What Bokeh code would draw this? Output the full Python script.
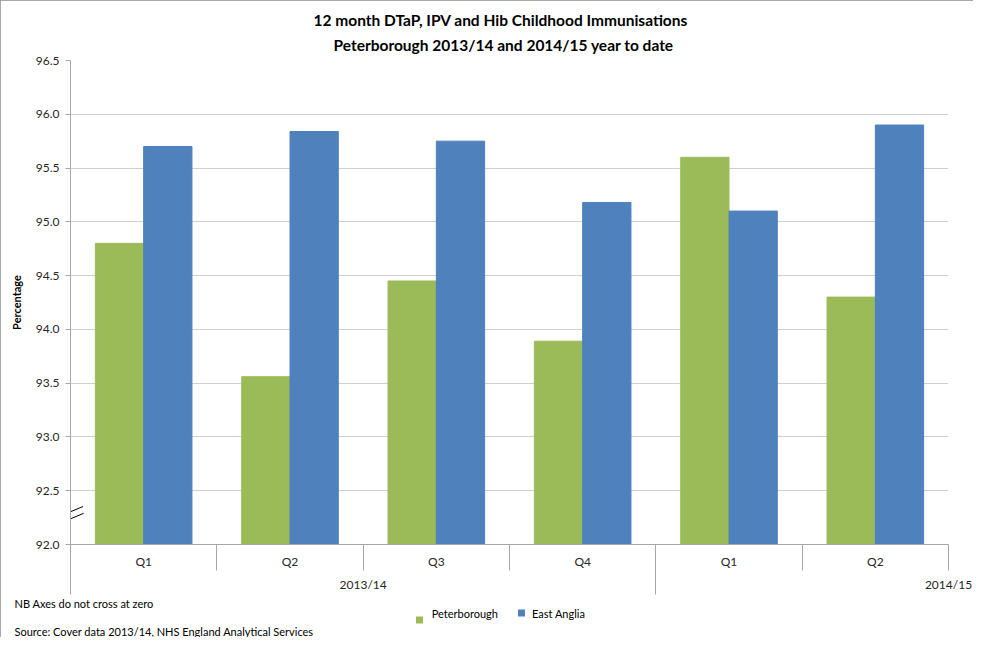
from bokeh.plotting import figure
from bokeh.models import (FixedTicker, ColumnDataSource, Range1d, LinearAxis,
                          Title, PrintfTickFormatter)
from bokeh.transform import dodge
from bokeh.embed import file_html
from bokeh.resources import INLINE

# ---------------- data ----------------
title_lines = ["12 month DTaP, IPV and Hib Childhood Immunisations",
               "Peterborough 2013/14 and 2014/15 year to date"]
years = ["2013/14", "2013/14", "2013/14", "2013/14", "2014/15", "2014/15"]
quarters = ["Q1", "Q2", "Q3", "Q4", "Q1", "Q2"]
year_groups = ["2013/14", "2014/15"]
peterborough = [94.80, 93.56, 94.45, 93.89, 95.60, 94.30]
east_anglia = [95.70, 95.84, 95.75, 95.18, 95.10, 95.90]
y_ticks = [92.0, 92.5, 93.0, 93.5, 94.0, 94.5, 95.0, 95.5, 96.0, 96.5]
series_names = ["Peterborough", "East Anglia"]
y_label = "Percentage"
notes = ["NB Axes do not cross at zero",
         "Source: Cover data 2013/14, NHS England Analytical Services"]

GREEN = "#9BBB59"
BLUE = "#4F81BD"
FONT = "Lato"
TXT = "#262626"
AXC = "#A6A6A6"
GRIDC = "#D0D0D0"

y_base = y_ticks[0]
y_top = y_ticks[-1]
n = len(quarters)
centers = [i + 0.5 for i in range(n)]       # category slots on the x scale
bounds = list(range(n + 1))
src = ColumnDataSource(dict(xc=centers, pb=peterborough, ea=east_anglia))

W, H = 973, 637
p = figure(width=W, height=H, output_backend="svg", toolbar_location=None,
           x_range=Range1d(0, n), y_range=Range1d(y_base, y_top),
           x_axis_location=None,
           min_border_left=70, min_border_right=25, min_border_top=60,
           min_border_bottom=0)
p.outline_line_color = None
p.background_fill_color = "white"
p.border_fill_color = "white"
p.styles = {"outline": "1px solid #8C8C8C", "outline-offset": "-1px"}

# bars
r_pb = p.vbar(x=dodge("xc", -0.165), top="pb", bottom=y_base,
              width=0.33, fill_color=GREEN, line_color=GREEN, source=src)
r_ea = p.vbar(x=dodge("xc", 0.165), top="ea", bottom=y_base,
              width=0.33, fill_color=BLUE, line_color=BLUE, source=src)

# axis break marks (drawn across the value axis)
p.segment(x0=[-0.09, -0.085], y0=[y_base + 0.253, y_base + 0.19],
          x1=[0.085, 0.09], y1=[y_base + 0.353, y_base + 0.29],
          line_color="black", line_width=1)

# value axis
p.xgrid.visible = False
yax = p.yaxis[0]
yax.ticker = FixedTicker(ticks=y_ticks)
yax.formatter = PrintfTickFormatter(format="%.1f")
yax.axis_line_color = AXC
yax.major_tick_line_color = AXC
yax.major_tick_out = 5
yax.major_tick_in = 0
yax.minor_tick_line_color = None
yax.major_label_standoff = 6
yax.major_label_text_font = FONT
yax.major_label_text_font_size = "12px"
yax.major_label_text_color = TXT
yax.axis_label = y_label
yax.axis_label_text_font = FONT
yax.axis_label_text_font_size = "11px"
yax.axis_label_text_font_style = "bold"
yax.axis_label_text_color = "black"
yax.axis_label_standoff = 10
p.ygrid.ticker = FixedTicker(ticks=y_ticks[1:])
p.ygrid.grid_line_color = GRIDC

# category axis: quarter labels, separators between quarters
qax = LinearAxis(ticker=FixedTicker(ticks=centers, minor_ticks=bounds),
                 major_label_overrides={c: q for c, q in zip(centers, quarters)})
qax.axis_line_color = AXC
qax.major_tick_line_color = None
qax.major_tick_out = 0
qax.major_tick_in = 0
qax.minor_tick_line_color = AXC
qax.minor_tick_out = 26
qax.minor_tick_in = 0
qax.major_label_standoff = -17
qax.major_label_text_font = FONT
qax.major_label_text_font_size = "12px"
qax.major_label_text_color = TXT
p.add_layout(qax, "below")

# group axis: year labels, long separators at year boundaries
first_len = years.count(year_groups[0])
group_pos = [first_len / 2, float(n)]
group_bounds = [0, first_len]
gax = LinearAxis(ticker=FixedTicker(ticks=group_pos, minor_ticks=group_bounds),
                 major_label_overrides={g: y for g, y in zip(group_pos, year_groups)})
gax.axis_line_color = None
gax.major_tick_line_color = None
gax.major_tick_out = 0
gax.major_tick_in = 0
gax.minor_tick_line_color = AXC
gax.minor_tick_in = 27
gax.minor_tick_out = 23
gax.major_label_standoff = -18
gax.major_label_text_font = FONT
gax.major_label_text_font_size = "12px"
gax.major_label_text_color = TXT
p.add_layout(gax, "below")

# footnote 1
p.add_layout(Title(text=notes[0], align="left", offset=-56, standoff=0,
                   text_font=FONT, text_font_size="11px",
                   text_font_style="normal", text_color="black"), "below")

# legend row (built from two axis rows sharing one line):
# keys are square tick marks, names are tick labels
key_pos = [2.386, 3.085]      # square keys, in category units
name_pos = [2.695, 3.336]     # key names, in category units
kb = LinearAxis(ticker=FixedTicker(ticks=[], minor_ticks=[key_pos[1]]))
kb.axis_line_color = None
kb.minor_tick_line_color = BLUE
kb.minor_tick_line_width = 7
kb.minor_tick_in = 0
kb.minor_tick_out = 7
kb.major_tick_line_color = None
kb.major_tick_out = 0
kb.major_label_standoff = -7
kb.major_label_text_font_size = "1px"
p.add_layout(kb, "below")

ka = LinearAxis(ticker=FixedTicker(ticks=name_pos, minor_ticks=[key_pos[0]]),
                major_label_overrides={x: s for x, s in zip(name_pos, series_names)})
ka.axis_line_color = None
ka.major_tick_line_color = None
ka.major_tick_out = 0
ka.major_tick_in = 0
ka.minor_tick_line_color = GREEN
ka.minor_tick_line_width = 7
ka.minor_tick_in = 0
ka.minor_tick_out = 7
ka.major_label_standoff = -17
ka.major_label_text_font = FONT
ka.major_label_text_font_size = "11px"
ka.major_label_text_color = "black"
p.add_layout(ka, "below")

# footnote 2
p.add_layout(Title(text=notes[1], align="left", offset=-56, standoff=0,
                   text_font=FONT, text_font_size="11px",
                   text_font_style="normal", text_color="black"), "below")

# title (second line added first so it sits nearest the plot)
p.add_layout(Title(text=title_lines[1], align="left", offset=263,
                   standoff=14, text_font=FONT, text_font_size="15.5px",
                   text_font_style="bold", text_color="black"), "above")
p.add_layout(Title(text=title_lines[0], align="left", offset=243,
                   standoff=-4, text_font=FONT, text_font_size="15.5px",
                   text_font_style="bold", text_color="black"), "above")

open("out.html", "w").write(file_html(p, INLINE))
